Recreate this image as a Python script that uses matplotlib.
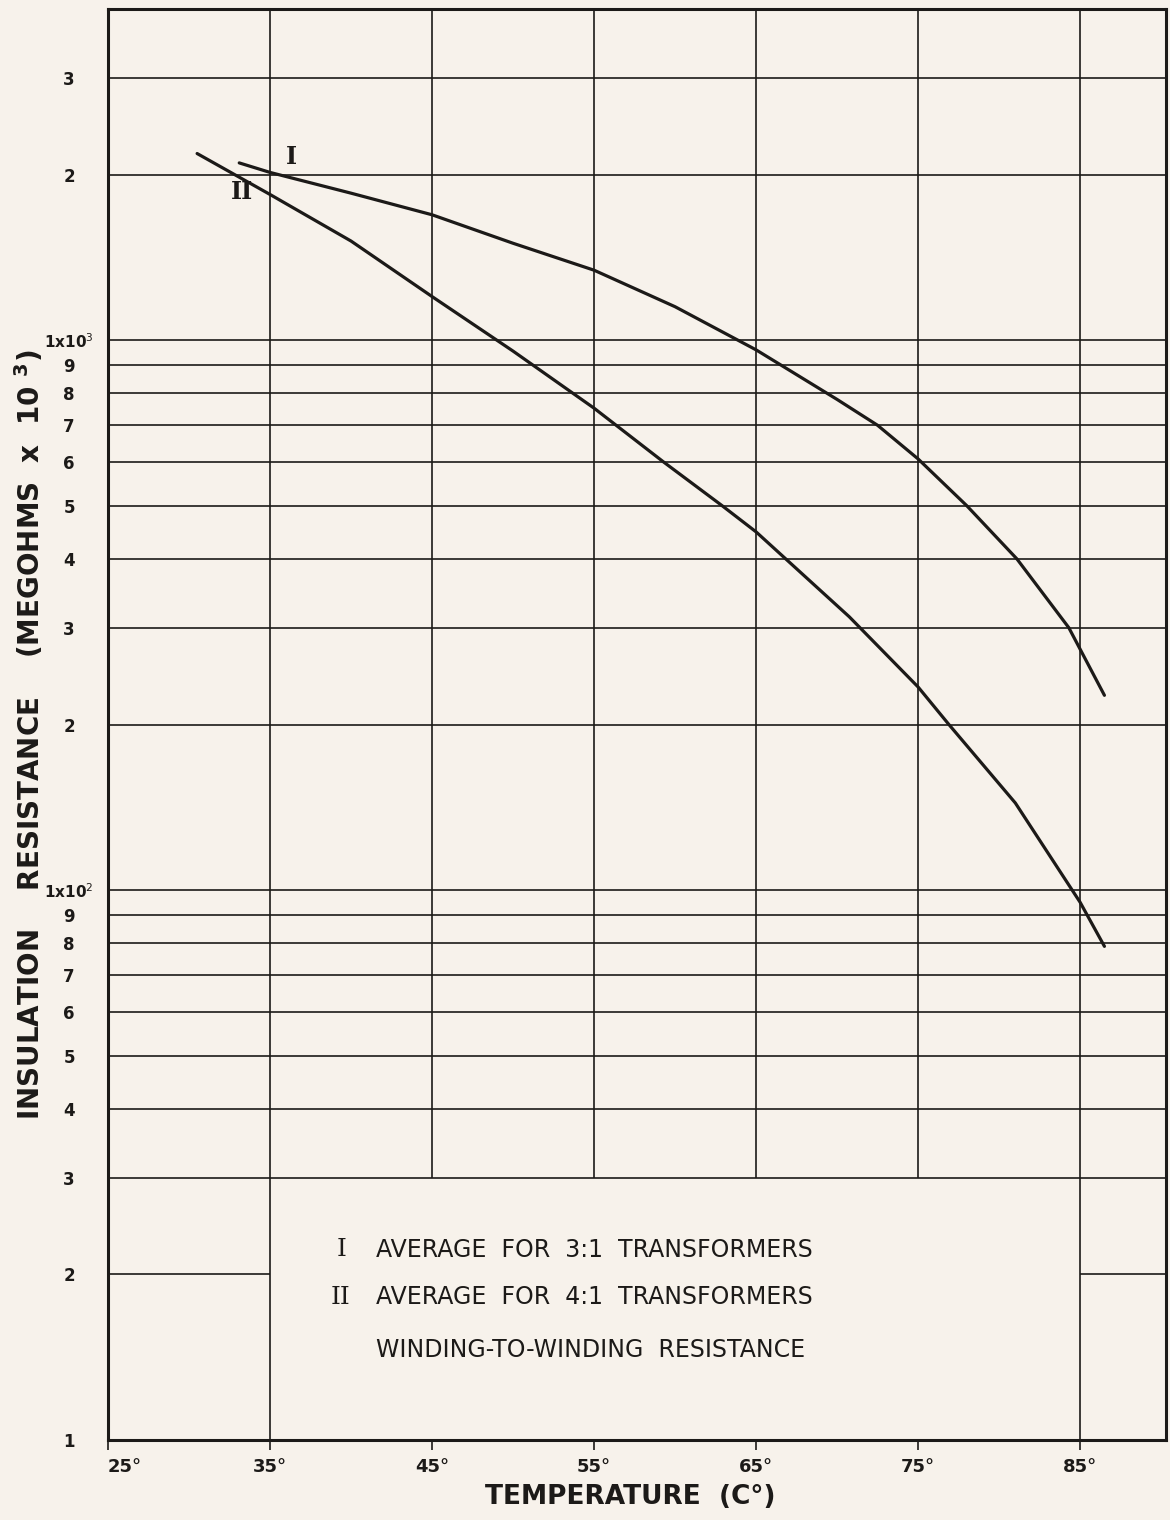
# Insulation resistance vs temperature, semi-log chart
import numpy as np
import matplotlib.pyplot as plt

# curve I: average for 3:1 transformers
temp_I = [33.1, 35, 40, 45, 50, 55, 60, 65, 70, 72.5, 75, 78.0, 81.1, 84.3, 86.5]
res_I = [2100, 2018, 1850, 1690, 1500, 1340, 1150, 960, 780, 700, 608, 500, 400, 300, 226]

# curve II: average for 4:1 transformers
temp_II = [30.5, 35, 40, 45, 50, 55, 59.3, 62.9, 65, 70.75, 75, 76.9, 81.0, 85, 86.5]
res_II = [2184, 1840, 1514, 1200, 955, 752, 600, 500, 448, 314, 234, 200, 144, 95, 79]

x_ticks = [25, 35, 45, 55, 65, 75, 85]
x_labels = ["25°", "35°", "45°", "55°", "65°", "75°", "85°"]
y_ticks = [10, 20, 30, 40, 50, 60, 70, 80, 90, 100,
           200, 300, 400, 500, 600, 700, 800, 900, 1000, 2000, 3000]
y_labels = ["1", "2", "3", "4", "5", "6", "7", "8", "9", "1x10$^2$",
            "2", "3", "4", "5", "6", "7", "8", "9", "1x10$^3$", "2", "3"]

paper = "#f7f2eb"
ink = "#1c1a18"

fig = plt.figure(figsize=(11.7, 15.2), dpi=100, facecolor=paper)
W, H = 1170, 1520
ax = fig.add_axes([108 / W, 1 - 1440 / H, (1166 - 108) / W, (1440 - 9) / H])
ax.set_facecolor(paper)
ax.set_yscale("log")
ax.set_xlim(25, 90.3)
ax.set_ylim(10, 4000)

# grid, drawn by hand since the bottom part is left open for the notes
full_h = [v for v in y_ticks if v >= 30]
ax.hlines(full_h, 25, 90.3, color=ink, lw=1.2, zorder=1)
ax.hlines([20, 20], [25, 85], [35, 90.3], color=ink, lw=1.2, zorder=1)
ax.vlines([35, 85], 10, 4000, color=ink, lw=1.2, zorder=1)
ax.vlines([45, 55, 65, 75], 30, 4000, color=ink, lw=1.2, zorder=1)

ax.plot(temp_I, res_I, color=ink, lw=2.3, solid_joinstyle="round",
        solid_capstyle="round", zorder=3)
ax.plot(temp_II, res_II, color=ink, lw=2.3, solid_joinstyle="round",
        solid_capstyle="round", zorder=3)

ax.text(36.3, 2150, "I", family="DejaVu Serif", fontsize=17, fontweight="bold",
        color=ink, ha="center", va="center")
ax.text(33.3, 1860, "II", family="DejaVu Serif", fontsize=17, fontweight="bold",
        color=ink, ha="center", va="center")

for s in ax.spines.values():
    s.set_linewidth(2.2)
    s.set_color(ink)

ax.set_xticks(x_ticks)
ax.set_xticklabels(x_labels, fontsize=13, fontweight="bold", color=ink)
ax.tick_params(axis="x", direction="out", length=7, width=1.2, color=ink, pad=6)
ax.get_xticklabels()[0].set_ha("left")
ax.set_yticks(y_ticks)
ax.set_yticklabels(y_labels, fontsize=12, fontweight="bold", color=ink)
ax.yaxis.set_minor_locator(plt.NullLocator())
ax.tick_params(axis="y", length=0, pad=28)
for lab in ax.get_yticklabels():
    lab.set_ha("center")
    if "x" in lab.get_text():
        lab.set_fontsize(11)

fig.text(30 / W, 1 - 735 / H,
         "INSULATION    RESISTANCE    (MEGOHMS  x  10 $^{\\mathbf{3}}$)",
         rotation=90, fontsize=20, fontweight="bold", color=ink,
         ha="center", va="center")
fig.text(630 / W, 1 - 1497 / H, "TEMPERATURE  (C°)", fontsize=19,
         fontweight="bold", color=ink, ha="center", va="center")

# notes inside the open lower part
fig.text(342 / W, 1 - 1250 / H, "I", family="DejaVu Serif", fontsize=18,
         color=ink, ha="center", va="center")
fig.text(340 / W, 1 - 1297 / H, "II", family="DejaVu Serif", fontsize=18,
         color=ink, ha="center", va="center")
fig.text(376 / W, 1 - 1250 / H, "AVERAGE  FOR  3:1  TRANSFORMERS", fontsize=17,
         color=ink, ha="left", va="center")
fig.text(376 / W, 1 - 1297 / H, "AVERAGE  FOR  4:1  TRANSFORMERS", fontsize=17,
         color=ink, ha="left", va="center")
fig.text(376 / W, 1 - 1350 / H, "WINDING-TO-WINDING  RESISTANCE", fontsize=17,
         color=ink, ha="left", va="center")

fig.savefig("out.png", dpi=100, facecolor=paper)
